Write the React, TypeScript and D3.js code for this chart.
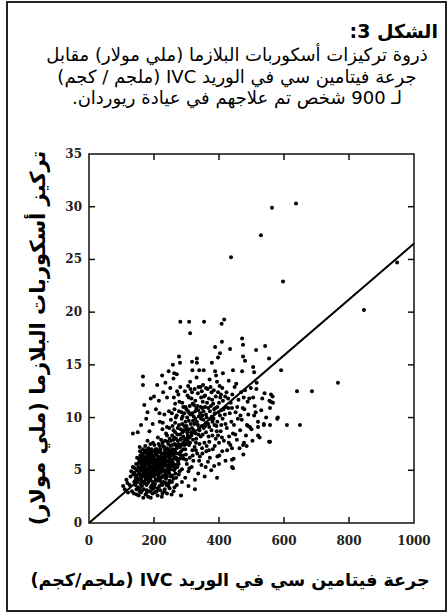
import React, { useRef, useEffect } from "react";
import * as d3 from "d3";

// dose (mg/kg), plasma ascorbate (mM), grouped by region
const lowEnd: [number, number][] = [
  [105, 3.5], [110, 3.2], [115, 4.1], [118, 3.8], [120, 2.9], [125, 3.6], [128, 4.4], [130, 4.9],
  [132, 3.0], [135, 5.3], [138, 2.8], [142, 4.0], [147, 2.7], [153, 2.6], [160, 2.9], [167, 2.4],
  [174, 2.7], [182, 2.5], [190, 2.4], [224, 2.5], [283, 2.6], [135, 8.5], [166, 13.1], [166, 13.9],
  [148, 5.0], [151, 3.4], [144, 4.3], [139, 3.9], [136, 4.6], [141, 5.2], [146, 3.2], [156, 3.0],
  [164, 3.1], [178, 2.9], [196, 3.2], [208, 3.0], [232, 3.0], [248, 3.3], [260, 3.0], [270, 3.6],
  [254, 2.7], [240, 2.8],
];

const coreCluster: [number, number][] = [
  [150, 4.2], [160, 5.1], [170, 3.8], [175, 6.0], [180, 4.6], [185, 5.5], [190, 3.4], [195, 6.3], [200, 5.0], [205, 4.1],
  [210, 5.8], [215, 6.7], [220, 4.8], [225, 3.6], [230, 5.4], [235, 6.1], [240, 4.4], [245, 7.0], [250, 5.6], [255, 3.9],
  [145, 5.6], [155, 3.3], [165, 6.4], [172, 4.9], [178, 3.1], [183, 7.1], [188, 5.9], [193, 4.7], [198, 6.8], [203, 3.7],
  [208, 5.3], [213, 4.3], [218, 7.3], [223, 5.9], [228, 4.5], [233, 3.2], [238, 6.6], [243, 5.2], [248, 4.0], [253, 6.9],
  [140, 4.8], [148, 6.2], [158, 4.5], [163, 3.5], [168, 5.7], [176, 6.9], [181, 5.2], [186, 4.0], [191, 6.6], [196, 5.4],
  [201, 7.4], [206, 6.0], [211, 3.3], [216, 5.1], [221, 6.3], [226, 7.6], [231, 4.9], [236, 3.8], [241, 5.9], [246, 6.4],
  [152, 5.3], [157, 6.8], [162, 4.0], [167, 4.7], [171, 5.3], [177, 3.6], [182, 6.5], [187, 4.3], [192, 5.1], [197, 3.9],
  [202, 6.1], [207, 4.6], [212, 6.9], [217, 3.5], [222, 4.3], [227, 6.6], [232, 5.8], [237, 4.2], [242, 7.7], [247, 5.0],
  [143, 3.6], [151, 4.6], [159, 5.8], [166, 5.0], [173, 7.3], [179, 4.2], [184, 6.1], [189, 7.5], [194, 4.4], [199, 5.7],
  [204, 4.8], [209, 7.0], [214, 5.5], [219, 4.0], [224, 5.2], [229, 3.9], [234, 6.9], [239, 5.4], [244, 3.5], [249, 6.1],
  [156, 7.2], [161, 5.6], [169, 3.2], [174, 5.5], [187, 3.0], [195, 2.8], [203, 2.9], [211, 2.6], [219, 3.1], [226, 2.8],
  [234, 7.8], [258, 5.4], [262, 6.3], [266, 4.7], [270, 7.1], [274, 5.8], [263, 3.4], [268, 8.0], [256, 8.3], [212, 8.1],
  [158, 5.0], [164, 5.9], [170, 4.4], [177, 5.0], [183, 4.5], [189, 5.3], [194, 6.0], [200, 4.4], [206, 5.2], [212, 4.7],
  [217, 6.1], [223, 4.9], [229, 5.6], [235, 4.6], [241, 6.3], [247, 4.7], [253, 5.9], [259, 6.6], [265, 5.2], [271, 6.0],
  [161, 4.3], [167, 6.1], [173, 5.9], [179, 5.6], [185, 6.7], [191, 4.6], [197, 5.9], [203, 5.6], [209, 6.4], [215, 4.5],
  [221, 5.5], [227, 5.1], [233, 6.3], [239, 7.1], [245, 5.5], [251, 7.3], [257, 4.5], [263, 7.5], [269, 5.5], [277, 6.6],
  [154, 6.0], [163, 6.6], [171, 6.7], [180, 7.8], [188, 6.9], [197, 7.6], [205, 7.0], [214, 7.5], [222, 7.9], [231, 7.2],
  [240, 8.3], [248, 8.0], [256, 7.4], [265, 8.6], [273, 7.8], [282, 8.9], [290, 8.2], [298, 8.0], [307, 8.9], [315, 8.3],
  [146, 4.5], [149, 3.9], [153, 5.7], [157, 4.1], [159, 3.7], [162, 5.3], [165, 4.6], [168, 3.9], [171, 6.3], [174, 4.1],
  [176, 4.8], [178, 6.2], [181, 3.8], [184, 5.2], [186, 6.0], [189, 4.1], [192, 7.0], [194, 3.6], [196, 4.9], [199, 6.4],
  [201, 3.4], [204, 5.9], [207, 6.7], [210, 4.0], [213, 6.0], [216, 4.2], [218, 5.6], [220, 7.0], [223, 3.8], [226, 6.0],
  [228, 5.0], [231, 6.6], [234, 4.3], [236, 5.5], [238, 3.6], [241, 4.8], [244, 6.7], [246, 3.8], [249, 5.3], [252, 4.4],
  [254, 6.4], [257, 5.8], [260, 4.2], [262, 5.0], [265, 6.8], [268, 4.3], [272, 5.3], [276, 5.6], [279, 4.9], [283, 6.2],
  [155, 4.8], [163, 5.2], [172, 5.6], [181, 5.9], [190, 5.7], [199, 5.2], [208, 5.6], [216, 5.8], [225, 5.6], [234, 5.0],
  [243, 5.8], [252, 5.1], [170, 5.0], [187, 4.8], [205, 4.6], [222, 5.3], [239, 4.9], [198, 4.7], [212, 5.2], [184, 4.2],
  [160, 6.2], [168, 5.3], [175, 4.5], [182, 5.6], [188, 6.3], [193, 5.8], [199, 6.0], [204, 6.7], [210, 5.0], [214, 6.3],
  [219, 5.3], [224, 6.6], [229, 6.2], [233, 5.6], [238, 5.9], [243, 6.5], [247, 5.9], [251, 6.6], [256, 6.0], [261, 5.6],
  [266, 6.1], [270, 6.6], [275, 7.2], [280, 6.5], [285, 7.4], [292, 7.6], [296, 7.0], [304, 8.3], [311, 7.6], [228, 7.3],
  [236, 7.0], [244, 7.5], [252, 7.8], [260, 7.9], [219, 6.8], [206, 6.5], [193, 6.9], [178, 6.6], [166, 7.0], [158, 6.4],
];

const middleBand: [number, number][] = [
  [260, 8.8], [265, 9.5], [270, 10.2], [275, 7.5], [280, 8.4], [285, 9.9], [290, 11.0], [295, 7.9], [300, 9.2], [305, 10.6],
  [310, 8.1], [315, 11.8], [320, 9.7], [325, 7.2], [330, 10.9], [335, 12.3], [340, 8.8], [345, 9.9], [350, 11.5], [355, 7.6],
  [360, 10.3], [365, 12.7], [370, 9.1], [375, 11.1], [380, 8.3], [385, 10.8], [390, 12.0], [395, 9.6], [400, 11.4], [405, 8.7],
  [258, 7.0], [263, 10.8], [268, 6.2], [273, 9.0], [278, 11.5], [283, 6.8], [288, 8.6], [293, 10.4], [298, 6.5], [303, 12.1],
  [308, 7.4], [313, 9.4], [318, 6.9], [323, 11.2], [328, 8.5], [333, 6.6], [338, 10.1], [343, 12.9], [348, 7.1], [353, 9.0],
  [261, 11.9], [271, 12.5], [281, 12.9], [291, 6.1], [301, 5.6], [311, 13.4], [321, 5.9], [331, 13.8], [341, 6.3], [351, 13.1],
  [361, 6.8], [371, 13.6], [381, 7.0], [391, 14.0], [401, 6.4], [411, 9.9], [421, 11.0], [431, 8.2], [441, 12.2], [451, 10.5],
  [276, 4.6], [286, 5.1], [296, 4.3], [306, 4.9], [316, 5.3], [326, 4.1], [336, 4.7], [346, 5.5], [356, 4.4], [366, 5.8],
  [376, 5.0], [286, 3.9], [306, 3.5], [326, 3.2], [252, 9.8], [246, 10.6], [240, 9.1], [232, 10.3], [226, 8.9], [218, 9.6],
  [206, 10.8], [196, 9.4], [186, 8.7], [176, 9.9], [170, 11.2], [200, 12.0], [215, 11.6], [228, 12.4], [240, 11.9], [250, 12.8],
  [180, 10.5], [190, 11.8], [160, 9.3], [150, 8.6], [235, 13.3], [225, 14.0], [210, 13.1], [260, 13.7], [245, 14.4], [270, 14.1],
  [285, 10.5], [293, 9.2], [302, 10.0], [310, 11.1], [318, 10.4], [327, 9.9], [335, 9.3], [344, 11.0], [352, 10.6], [361, 9.5],
  [369, 11.8], [378, 10.1], [386, 9.3], [395, 11.0], [403, 10.2], [412, 11.6], [280, 7.2], [290, 7.0], [300, 7.5], [310, 6.2],
  [320, 7.9], [330, 8.0], [340, 7.5], [350, 8.4], [360, 8.6], [370, 7.7], [380, 9.6], [390, 8.0], [400, 7.6], [255, 10.4],
  [265, 11.3], [275, 12.2], [295, 12.5], [305, 13.0], [325, 12.7], [345, 11.9],
  [262, 8.1], [267, 7.4], [272, 8.4], [277, 9.3], [282, 7.9], [287, 9.4], [292, 8.8], [297, 9.6], [302, 8.6], [307, 9.7],
  [312, 10.3], [317, 9.0], [322, 8.8], [327, 10.6], [332, 9.6], [337, 8.4], [342, 10.4], [347, 9.2], [352, 9.8], [357, 11.0],
  [362, 10.0], [367, 9.4], [372, 10.6], [377, 12.4], [382, 11.3], [387, 10.4], [392, 9.2], [397, 12.4], [402, 13.0], [407, 10.7],
  [267, 10.0], [277, 10.6], [287, 11.4], [297, 11.0], [307, 11.9], [317, 12.4], [327, 11.6], [337, 12.9], [347, 12.5], [357, 12.1],
  [367, 10.9], [377, 8.8], [387, 7.3], [397, 8.3], [407, 9.3], [257, 9.2], [247, 9.0], [237, 8.5], [227, 9.5], [217, 10.4],
  [279, 6.1], [289, 6.4], [299, 6.0], [309, 5.2], [319, 6.4], [329, 6.9], [339, 5.9], [349, 6.6], [359, 5.3], [369, 6.9],
  [283, 8.0], [288, 10.1], [294, 7.4], [299, 8.9], [304, 7.8], [309, 10.4], [314, 8.6], [319, 11.3], [324, 9.4], [329, 7.6],
  [334, 11.1], [339, 9.0], [344, 8.2], [349, 10.2], [354, 12.0], [358, 9.2], [363, 11.4], [368, 8.2], [373, 9.9], [379, 11.7],
  [383, 9.9], [389, 10.9], [393, 8.7], [398, 10.5], [404, 11.9], [409, 8.1], [414, 10.8], [419, 12.0], [424, 9.0], [429, 10.9],
  [436, 11.4], [446, 9.3], [456, 11.0], [466, 10.2], [476, 11.9], [300, 10.8], [312, 12.7], [322, 10.1], [336, 10.7], [348, 10.9],
  [360, 12.8], [374, 12.9], [384, 12.6], [394, 13.4], [406, 12.2],
];

const upperSpread: [number, number][] = [
  [410, 12.8], [420, 9.4], [430, 13.5], [440, 10.9], [450, 8.4], [460, 11.7], [470, 9.8], [480, 12.6], [490, 10.3], [500, 8.9],
  [510, 11.1], [520, 9.6], [530, 10.7], [540, 12.3], [415, 7.8], [425, 6.9], [435, 7.4], [445, 6.1], [455, 7.9], [465, 8.8],
  [475, 6.5], [485, 7.3], [495, 9.1], [505, 11.9], [515, 12.7], [525, 8.1], [545, 10.0], [555, 11.6], [565, 12.0], [566, 11.4],
  [560, 12.2], [560, 11.5], [557, 10.9], [581, 10.0], [538, 9.3], [557, 9.3], [520, 9.1], [557, 7.7], [520, 8.3], [486, 9.3],
  [474, 7.4], [443, 8.5], [440, 7.1], [440, 6.0], [440, 5.3], [394, 4.3], [443, 5.2], [400, 5.6], [410, 6.8], [420, 5.9],
  [430, 7.6], [395, 6.3], [385, 5.4], [372, 6.2], [362, 7.3], [516, 13.3], [489, 9.2], [477, 7.6], [538, 9.4],
  [258, 15.0], [277, 15.8], [280, 15.2], [317, 15.3], [332, 15.6], [332, 15.2], [378, 15.2], [474, 15.8], [480, 15.4],
  [505, 14.8], [443, 14.5], [471, 14.4], [508, 14.3], [262, 14.2], [318, 14.5], [339, 14.5], [353, 14.5], [388, 14.4],
  [412, 14.2], [388, 16.7], [409, 17.2], [397, 15.7], [403, 16.1], [434, 16.5], [471, 17.5], [474, 16.9], [514, 16.4],
  [542, 16.8], [554, 15.6], [591, 14.5],
  [418, 10.3], [428, 11.8], [438, 9.6], [448, 12.9], [458, 9.9], [468, 12.4], [478, 10.8], [488, 11.5], [498, 12.8], [508, 10.2],
  [423, 12.4], [433, 10.4], [453, 13.2], [463, 7.1], [473, 10.9], [483, 8.3], [493, 11.8], [503, 7.8], [513, 10.5], [533, 11.8],
];

const outliers: [number, number][] = [
  [281, 19.1], [308, 19.1], [354, 19.1], [311, 18.0], [408, 18.9], [416, 19.3], [437, 25.2], [529, 27.3],
  [563, 29.9], [637, 30.3], [597, 22.9], [846, 20.2], [948, 24.7], [766, 13.3], [640, 12.5], [686, 12.5],
  [609, 9.3], [649, 9.3], [579, 9.9], [554, 7.7],
];

const xTicks = [0, 200, 400, 600, 800, 1000];
const yTicks = [0, 5, 10, 15, 20, 25, 30, 35];
const fitLine: [number, number][] = [[0, 0], [1000, 26.5]];

const titleText = "الشكل 3:";
const captionLines = [
  "ذروة تركيزات أسكوربات البلازما (ملي مولار) مقابل",
  "جرعة فيتامين سي في الوريد IVC (ملجم / كجم)",
  "لـ 900 شخص تم علاجهم في عيادة ريوردان.",
];
const xLabel = "جرعة فيتامين سي في الوريد IVC (ملجم/كجم)";
const yLabel = "تركيز أسكوربات البلازما (ملي مولار)";

const Chart = () => {
  const ref = useRef<SVGSVGElement>(null);

  useEffect(() => {
    const svg = d3.select(ref.current);
    svg.selectAll("*").remove();

    const width = 439;
    const height = 609;
    // page positions shifted by the frame's corner
    const ox = 7, oy = 2;
    const left = 89 - ox, right = 414 - ox, top = 154 - oy, bottom = 523 - oy;
    const arabic = "'DejaVu Sans', sans-serif";
    const serif = "'DejaVu Serif', 'Liberation Serif', serif";

    svg.attr("width", width).attr("height", height);

    svg.append("text")
      .attr("x", 438 - ox).attr("y", 38 - oy)
      .attr("direction", "rtl").attr("text-anchor", "start")
      .style("font-family", arabic).style("font-weight", "bold").style("font-size", "19px")
      .text(titleText);

    svg.selectAll(".caption")
      .data(captionLines)
      .enter()
      .append("text")
      .attr("class", "caption")
      .attr("x", 237 - ox)
      .attr("y", (d, i) => 61 - oy + i * 21.5)
      .attr("direction", "rtl")
      .attr("text-anchor", "middle")
      .style("font-family", arabic).style("font-size", "18px")
      .text((d) => d);

    const x = d3.scaleLinear().domain([0, 1000]).range([left, right]);
    const y = d3.scaleLinear().domain([0, 35]).range([bottom, top]);

    const tickLen = 6;
    const axisG = svg.append("g").attr("stroke", "#111").attr("stroke-width", 1.5);
    xTicks.slice(1, -1).forEach((t) => {
      axisG.append("line").attr("x1", x(t)).attr("x2", x(t)).attr("y1", bottom).attr("y2", bottom - tickLen);
      axisG.append("line").attr("x1", x(t)).attr("x2", x(t)).attr("y1", top).attr("y2", top + tickLen);
    });
    yTicks.slice(1, -1).forEach((t) => {
      axisG.append("line").attr("x1", left).attr("x2", left + tickLen).attr("y1", y(t)).attr("y2", y(t));
      axisG.append("line").attr("x1", right).attr("x2", right - tickLen).attr("y1", y(t)).attr("y2", y(t));
    });

    svg.selectAll(".xtick")
      .data(xTicks)
      .enter()
      .append("text")
      .attr("x", (d) => x(d))
      .attr("y", bottom + 22)
      .attr("text-anchor", "middle")
      .style("font-family", serif).style("font-weight", "bold").style("font-size", "12px").style("fill", "#222")
      .text((d) => d);

    svg.selectAll(".ytick")
      .data(yTicks)
      .enter()
      .append("text")
      .attr("x", left - 7)
      .attr("y", (d) => y(d) + 4)
      .attr("text-anchor", "end")
      .style("font-family", serif).style("font-weight", "bold").style("font-size", "12px").style("fill", "#222")
      .text((d) => d);

    const allPoints = [...lowEnd, ...coreCluster, ...middleBand, ...upperSpread, ...outliers];
    svg.append("g")
      .selectAll("circle")
      .data(allPoints)
      .enter()
      .append("circle")
      .attr("cx", (d) => x(d[0]))
      .attr("cy", (d) => y(d[1]))
      .attr("r", 2)
      .attr("fill", "#000");

    const line = d3.line<[number, number]>().x((d) => x(d[0])).y((d) => y(d[1]));
    svg.append("path")
      .attr("d", line(fitLine))
      .attr("fill", "none").attr("stroke", "#000").attr("stroke-width", 2);

    svg.append("rect")
      .attr("x", left).attr("y", top).attr("width", right - left).attr("height", bottom - top)
      .attr("fill", "none").attr("stroke", "#111").attr("stroke-width", 1.5);

    svg.append("text")
      .attr("x", 230 - ox).attr("y", 586 - oy)
      .attr("direction", "rtl").attr("text-anchor", "middle")
      .style("font-family", arabic).style("font-weight", "bold").style("font-size", "17.5px")
      .text(xLabel);

    svg.append("text")
      .attr("transform", `translate(${45 - ox}, ${338 - oy}) rotate(-90)`)
      .attr("direction", "rtl").attr("text-anchor", "middle")
      .style("font-family", arabic).style("font-weight", "bold").style("font-size", "21px")
      .text(yLabel);
  }, []);

  return <svg ref={ref} style={{ display: "block" }}></svg>;
};

export default function App() {
  return (
    <div
      style={{
        position: "absolute",
        left: 6,
        top: 1,
        width: 441,
        height: 611,
        border: "2px solid #222",
        boxSizing: "border-box",
        background: "#fff",
      }}
    >
      <div style={{ margin: -1 }}>
        <Chart />
      </div>
    </div>
  );
}
